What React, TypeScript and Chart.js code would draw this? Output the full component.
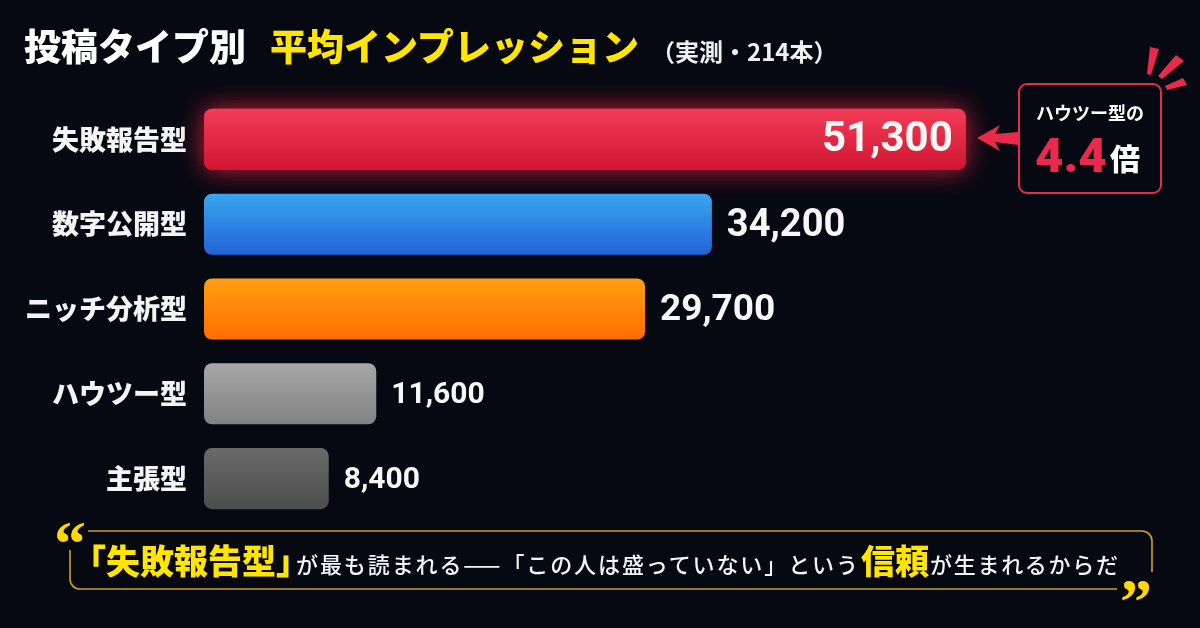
import React, { useEffect, useRef } from "react";
import { Chart, registerables } from "chart.js";

Chart.register(...registerables);

// ---- data ----
const categories = ["失敗報告型", "数字公開型", "ニッチ分析型", "ハウツー型", "主張型"];
const impressions = [51300, 34200, 29700, 11600, 8400];
const xAxisMax = 60000;

// ---- styles ----
const barTopColors = ["#f43d58", "#3aa8ee", "#ffa012", "#a8a8a8", "#6a6a6a"];
const barBottomColors = ["#cf1430", "#2262d8", "#ff6c00", "#818181", "#4d4d4d"];
const valueFontSizes = [42, 38, 37, 30, 30];

const BG = "#070912";
const RED = "#ea2a4c";
const YELLOW = "#ffe500";
const GOLD = "#c9a227";
const JP = "'Noto Sans CJK JP', 'Noto Sans', sans-serif";
const NUM = "Roboto, 'Liberation Sans', sans-serif";

const glowPlugin = {
  id: "glow",
  beforeDatasetsDraw(chart: any) {
    const bar = chart.getDatasetMeta(0).data[0];
    if (!bar) return;
    const { x, y, base, height } = bar.getProps(["x", "y", "base", "height"], true);
    const ctx = chart.ctx;
    ctx.save();
    ctx.shadowColor = "rgba(255,35,70,0.8)";
    ctx.shadowBlur = 26;
    ctx.fillStyle = "#e0213f";
    ctx.beginPath();
    ctx.roundRect(base, y - height / 2, x - base, height, 8);
    ctx.fill();
    ctx.restore();
  },
};

const valueLabelPlugin = {
  id: "valueLabels",
  afterDatasetsDraw(chart: any) {
    const ctx = chart.ctx;
    const meta = chart.getDatasetMeta(0);
    meta.data.forEach((bar: any, i: number) => {
      const { x, y } = bar.getProps(["x", "y"], true);
      const text = impressions[i].toLocaleString("en-US");
      ctx.save();
      ctx.fillStyle = "#f7f7f7";
      ctx.font = `700 ${valueFontSizes[i]}px ${NUM}`;
      ctx.textBaseline = "middle";
      if (i === 0) {
        ctx.textAlign = "right";
        ctx.fillText(text, x - 13, y + 1);
      } else {
        ctx.textAlign = "left";
        ctx.fillText(text, x + 15, y + 2);
      }
      ctx.restore();
    });
  },
};

function BarChart() {
  const ref = useRef<HTMLCanvasElement | null>(null);
  useEffect(() => {
    if (!ref.current) return;
    const chart = new Chart(ref.current, {
      type: "bar",
      data: {
        labels: categories,
        datasets: [
          {
            data: impressions,
            backgroundColor: (c: any) => {
              const chart = c.chart;
              const i = c.dataIndex ?? 0;
              const ys = chart.scales?.y;
              if (!chart.chartArea || !ys) return barTopColors[i];
              const cy = ys.getPixelForValue(i);
              const g = chart.ctx.createLinearGradient(0, cy - 32, 0, cy + 32);
              g.addColorStop(0, barTopColors[i]);
              g.addColorStop(1, barBottomColors[i]);
              return g;
            },
            borderRadius: 8,
            borderSkipped: false,
            borderWidth: 0,
            categoryPercentage: 1,
            barPercentage: 0.72,
          },
        ],
      },
      options: {
        indexAxis: "y",
        animation: false,
        responsive: false,
        maintainAspectRatio: false,
        layout: { padding: { left: 0, right: 105, top: 97, bottom: 107 } },
        plugins: { legend: { display: false }, tooltip: { enabled: false } },
        scales: {
          x: { display: false, min: 0, max: xAxisMax },
          y: {
            afterFit: (scale: any) => {
              scale.width = 204;
            },
            grid: { display: false, drawTicks: false },
            border: { display: false },
            ticks: {
              color: "#f4f4f4",
              padding: 17,
              font: { family: JP, size: 27, weight: "900" },
            },
          },
        },
      },
      plugins: [glowPlugin, valueLabelPlugin],
    });
    return () => chart.destroy();
  }, []);
  return (
    <canvas
      ref={ref}
      width={1200}
      height={628}
      style={{ position: "absolute", left: 0, top: 0, width: 1200, height: 628 }}
    />
  );
}

function Overlay() {
  return (
    <svg
      width={1200}
      height={628}
      style={{ position: "absolute", left: 0, top: 0, pointerEvents: "none" }}
    >
      {/* title */}
      <text x={24} y={61} fontFamily={JP} fontWeight={900} fontSize={37} fill="#ffffff">
        投稿タイプ別
      </text>
      <text x={270} y={61} fontFamily={JP} fontWeight={900} fontSize={37} fill={YELLOW}>
        平均インプレッション
      </text>
      <text x={651} y={61} fontFamily={JP} fontWeight={700} fontSize={24} fill="#f0f0f0">
        （実測・214本）
      </text>

      {/* callout */}
      <rect x={1019} y={84} width={142} height={109} rx={8} ry={8} fill="none" stroke={RED} strokeWidth={2} />
      <text x={1090} y={120} textAnchor="middle" fontFamily={JP} fontWeight={700} fontSize={18} fill="#ffffff">
        ハウツー型の
      </text>
      <text x={1035} y={172} fontFamily={NUM} fontWeight={900} fontSize={49} fill={RED}>
        4.4
      </text>
      <text x={1110} y={170} fontFamily={JP} fontWeight={900} fontSize={30} fill="#ffffff">
        倍
      </text>
      <polygon
        points="977,138 1000,125 995,134 1019,132 1019,145 995,142 1000,151"
        fill={RED}
      />
      <g fill={RED}>
        <polygon points="1150,47 1159,49 1151,75 1147,74" />
        <polygon points="1176,55 1184,61 1162,79 1158,76" />
        <polygon points="1183,78 1187,85 1167,90 1165,86" />
      </g>

      {/* quote box */}
      <path
        d="M 88 531 L 1142 531 A 10 10 0 0 1 1152 541 L 1152 572"
        fill="none"
        stroke={GOLD}
        strokeWidth={1.6}
      />
      <path
        d="M 1117 589 L 80 589 A 10 10 0 0 1 70 579 L 70 550"
        fill="none"
        stroke={GOLD}
        strokeWidth={1.6}
      />
      <text x={54} y={565} fontFamily="'Liberation Serif', serif" fontWeight={700} fontSize={64} fill="#ffd800">
        “
      </text>
      <text x={1120} y={623} fontFamily="'Liberation Serif', serif" fontWeight={700} fontSize={64} fill="#ffd800">
        ”
      </text>
      <text x={72} y={574} fontFamily={JP} fontWeight={900} fontSize={34} fill={YELLOW}>
        「失敗報告型」
      </text>
      <text
        x={296}
        y={573}
        fontFamily={JP}
        fontWeight={500}
        fontSize={22}
        fill="#f4f4f4"
        textLength={562}
        lengthAdjust="spacing"
      >
        が最も読まれる——「この人は盛っていない」という
      </text>
      <text x={861} y={574} fontFamily={JP} fontWeight={900} fontSize={34} fill={YELLOW}>
        信頼
      </text>
      <text
        x={930}
        y={573}
        fontFamily={JP}
        fontWeight={500}
        fontSize={22}
        fill="#f4f4f4"
        textLength={188}
        lengthAdjust="spacing"
      >
        が生まれるからだ
      </text>
    </svg>
  );
}

export default function App() {
  return (
    <div
      style={{
        position: "fixed",
        left: 0,
        top: 0,
        width: 1200,
        height: 628,
        background: BG,
        overflow: "hidden",
      }}
    >
      <BarChart />
      <Overlay />
    </div>
  );
}
